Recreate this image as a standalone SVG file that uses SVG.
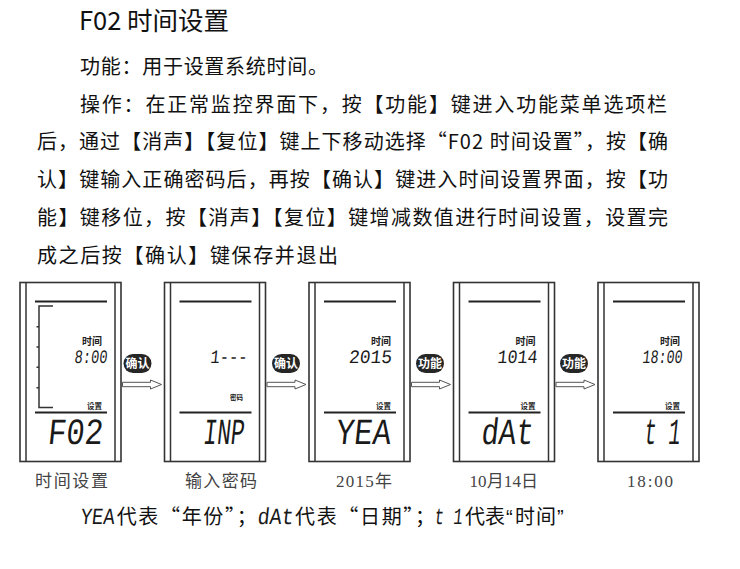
<svg xmlns="http://www.w3.org/2000/svg" width="740" height="569" viewBox="0 0 740 569">
<style>
.bg{fill:#fff}
.txt{font-family:"Noto Sans CJK SC","Noto Sans",sans-serif;fill:#111}
.q{font-family:"Liberation Sans",sans-serif;fill:#111}
.frame{fill:#fff;stroke:#333;stroke-width:1.6}
.pl{stroke:#333;stroke-width:1.5;fill:none}
.hl{stroke:#222;stroke-width:1.8}
.seg{font-family:"Liberation Mono","DejaVu Sans Mono",monospace;fill:#1a1a1a}
.lbl{font-family:"Noto Sans CJK SC",sans-serif;font-weight:bold;fill:#222}
.badge{fill:#262626}
.bt{font-family:"Noto Sans CJK SC",sans-serif;font-weight:bold;font-size:12px;fill:#fff}
.arr{fill:#fff;stroke:#555;stroke-width:1}
.cap{font-family:"Liberation Serif","Noto Sans CJK SC",serif;font-size:17px;fill:#444}
</style>
<rect class="bg" x="0" y="0" width="740" height="569"/>

<g id="heading">
<text class="txt" x="79" y="30" font-size="25.5">F02 时间设置</text>
<text class="txt" x="80" y="74" font-size="20" textLength="248">功能：用于设置系统时间。</text>
<text class="txt" x="80" y="111.5" font-size="20" textLength="587">操作：在正常监控界面下，按【功能】键进入功能菜单选项栏</text>
<text class="txt" x="37" y="149" font-size="20" textLength="631">后，通过【消声】【复位】键上下移动选择“F02 时间设置”，按【确</text>
<text class="txt" x="37" y="187" font-size="20" textLength="631">认】键输入正确密码后，再按【确认】键进入时间设置界面，按【功</text>
<text class="txt" x="37" y="225" font-size="20" textLength="631">能】键移位，按【消声】【复位】键增减数值进行时间设置，设置完</text>
<text class="txt" x="37" y="263" font-size="20" textLength="301">成之后按【确认】键保存并退出</text>
</g>

<g id="connectors">
<g transform="translate(122.5,384.5)"><path class="arr" d="M0,-2.2H28V-4.5L39,0L28,4.5V2.2H0Z"/></g>
<g transform="translate(267,384.5)"><path class="arr" d="M0,-2.2H28V-4.5L39,0L28,4.5V2.2H0Z"/></g>
<g transform="translate(411.5,384.5)"><path class="arr" d="M0,-2.2H28V-4.5L39,0L28,4.5V2.2H0Z"/></g>
<g transform="translate(556,384.5)"><path class="arr" d="M0,-2.2H28V-4.5L39,0L28,4.5V2.2H0Z"/></g>
<g id="badge1"><rect class="badge" x="123.5" y="354" width="28" height="19" rx="9.5"/><text class="bt" x="137.5" y="368" text-anchor="middle">确认</text></g>
<g id="badge2"><rect class="badge" x="272" y="354" width="28" height="19" rx="9.5"/><text class="bt" x="286" y="368" text-anchor="middle">确认</text></g>
<g id="badge3"><rect class="badge" x="416" y="354" width="28" height="19" rx="9.5"/><text class="bt" x="430" y="368" text-anchor="middle">功能</text></g>
<g id="badge4"><rect class="badge" x="560" y="354" width="28" height="19" rx="9.5"/><text class="bt" x="574" y="368" text-anchor="middle">功能</text></g>
</g>

<g id="panel1" transform="translate(20,0)">
<rect class="frame" x="0" y="282.5" width="101" height="179"/>
<line class="pl" x1="6" y1="282.5" x2="6" y2="461.5"/>
<line class="pl" x1="95" y1="282.5" x2="95" y2="461.5"/>
<line class="hl" x1="15" y1="301.5" x2="87" y2="301.5"/>
<line class="hl" x1="15" y1="412.5" x2="87" y2="412.5"/>
<path class="pl" d="M33,306H19V407.5H33M16.5,326.7H19M16.5,347H19M16.5,367.3H19M16.5,387.7H19"/>
<text class="lbl" x="82" y="344.5" font-size="10" text-anchor="end">时间</text>
<text class="seg" transform="translate(87,362.5) skewX(-6)" font-size="19" text-anchor="end" textLength="33" lengthAdjust="spacingAndGlyphs">8:00</text>
<text class="lbl" x="82" y="408.5" font-size="7.5" text-anchor="end">设置</text>
<text class="seg" transform="translate(82,443.5) skewX(-6)" font-size="37" text-anchor="end" textLength="55" lengthAdjust="spacingAndGlyphs">F02</text>
</g>

<g id="panel2" transform="translate(164.5,0)">
<rect class="frame" x="0" y="282.5" width="101" height="179"/>
<line class="pl" x1="6" y1="282.5" x2="6" y2="461.5"/>
<line class="pl" x1="95" y1="282.5" x2="95" y2="461.5"/>
<line class="hl" x1="15" y1="301.5" x2="87" y2="301.5"/>
<line class="hl" x1="15" y1="412.5" x2="87" y2="412.5"/>
<text class="seg" transform="translate(82.5,362.5) skewX(-6)" font-size="19" text-anchor="end" textLength="37" lengthAdjust="spacingAndGlyphs">1---</text>
<text class="lbl" x="78.5" y="400" font-size="6.5" text-anchor="end">密码</text>
<text class="seg" transform="translate(79,443.5) skewX(-6)" font-size="37" text-anchor="end" textLength="41" lengthAdjust="spacingAndGlyphs">INP</text>
</g>

<g id="panel3" transform="translate(309,0)">
<rect class="frame" x="0" y="282.5" width="101" height="179"/>
<line class="pl" x1="6" y1="282.5" x2="6" y2="461.5"/>
<line class="pl" x1="95" y1="282.5" x2="95" y2="461.5"/>
<line class="hl" x1="15" y1="301.5" x2="87" y2="301.5"/>
<line class="hl" x1="15" y1="412.5" x2="87" y2="412.5"/>
<text class="lbl" x="82" y="344.5" font-size="10" text-anchor="end">时间</text>
<text class="seg" transform="translate(82.5,362.5) skewX(-6)" font-size="19" text-anchor="end" textLength="43" lengthAdjust="spacingAndGlyphs">2015</text>
<text class="lbl" x="82" y="408.5" font-size="7.5" text-anchor="end">设置</text>
<text class="seg" transform="translate(81,443.5) skewX(-6)" font-size="37" text-anchor="end" textLength="55" lengthAdjust="spacingAndGlyphs">YEA</text>
</g>

<g id="panel4" transform="translate(453.5,0)">
<rect class="frame" x="0" y="282.5" width="101" height="179"/>
<line class="pl" x1="6" y1="282.5" x2="6" y2="461.5"/>
<line class="pl" x1="95" y1="282.5" x2="95" y2="461.5"/>
<line class="hl" x1="15" y1="301.5" x2="87" y2="301.5"/>
<line class="hl" x1="15" y1="412.5" x2="87" y2="412.5"/>
<text class="lbl" x="82" y="344.5" font-size="10" text-anchor="end">时间</text>
<text class="seg" transform="translate(83.5,362.5) skewX(-6)" font-size="19" text-anchor="end" textLength="40" lengthAdjust="spacingAndGlyphs">1014</text>
<text class="lbl" x="82" y="408.5" font-size="7.5" text-anchor="end">设置</text>
<text class="seg" transform="translate(79,443.5) skewX(-6)" font-size="37" text-anchor="end" textLength="52" lengthAdjust="spacingAndGlyphs">dAt</text>
</g>

<g id="panel5" transform="translate(598,0)">
<rect class="frame" x="0" y="282.5" width="101" height="179"/>
<line class="pl" x1="6" y1="282.5" x2="6" y2="461.5"/>
<line class="pl" x1="95" y1="282.5" x2="95" y2="461.5"/>
<line class="hl" x1="15" y1="301.5" x2="87" y2="301.5"/>
<line class="hl" x1="15" y1="412.5" x2="87" y2="412.5"/>
<text class="lbl" x="82" y="344.5" font-size="10" text-anchor="end">时间</text>
<text class="seg" transform="translate(84,362.5) skewX(-6)" font-size="19" text-anchor="end" textLength="40" lengthAdjust="spacingAndGlyphs">18:00</text>
<text class="lbl" x="82" y="408.5" font-size="7.5" text-anchor="end">设置</text>
<text class="seg" transform="translate(81.5,443.5) skewX(-6)" font-size="37" text-anchor="end" textLength="36" lengthAdjust="spacingAndGlyphs">t 1</text>
</g>

<g id="captions">
<text class="cap" x="35" y="487" textLength="73">时间设置</text>
<text class="cap" x="185" y="487" textLength="72">输入密码</text>
<text class="cap" x="336" y="487" textLength="56">2015年</text>
<text class="cap" x="469.5" y="487" textLength="68.5">10月14日</text>
<text class="cap" x="627" y="487" textLength="46">18:00</text>
</g>

<g id="legend">
<text class="seg" transform="translate(80,524) skewX(-6)" font-size="23" textLength="34" lengthAdjust="spacingAndGlyphs">YEA</text>
<text class="txt" x="116.7" y="524" font-size="20" textLength="140">代表“年份”；</text>
<text class="seg" transform="translate(257,524) skewX(-6)" font-size="23" textLength="36" lengthAdjust="spacingAndGlyphs">dAt</text>
<text class="txt" x="295" y="524" font-size="20" textLength="140">代表“日期”；</text>
<text class="seg" transform="translate(434,524) skewX(-6)" font-size="23" textLength="28" lengthAdjust="spacingAndGlyphs">t 1</text>
<text class="txt" x="465" y="524" font-size="20" textLength="40">代表</text>
<text class="q" x="506" y="524" font-size="20">“</text>
<text class="txt" x="515" y="524" font-size="20" textLength="41">时间</text>
<text class="q" x="557" y="524" font-size="20">”</text>
</g>
</svg>
